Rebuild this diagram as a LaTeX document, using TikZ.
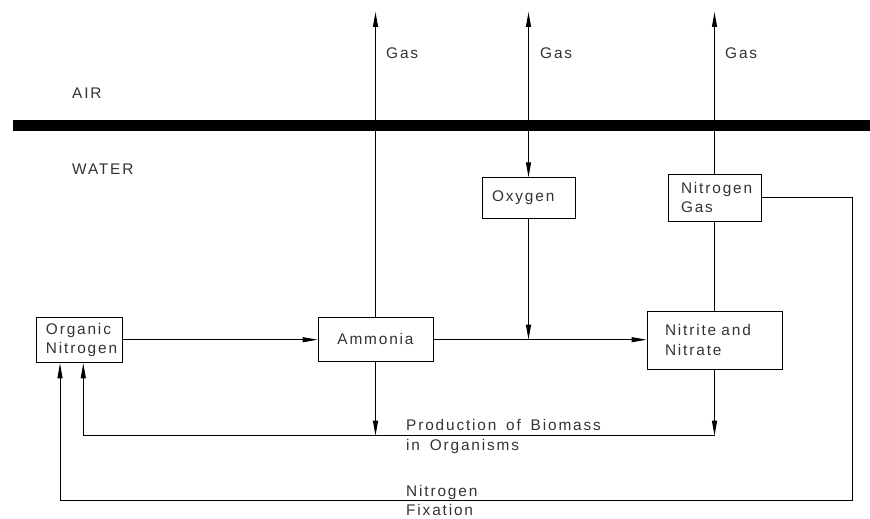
\documentclass[tikz,border=0pt]{standalone}
\usepackage{fontspec}
\setmainfont{Liberation Sans}[LetterSpace=12, WordSpace=1.6]
\usetikzlibrary{arrows.meta}
\begin{document}
\begin{tikzpicture}[x=1pt,y=-1pt,
  every node/.style={font=\fontsize{15.4}{19.5}\selectfont, text=black!80},
  box/.style={draw, line width=0.9pt, minimum height=#1, inner ysep=2pt},
  conn/.style={line width=0.9pt},
  tip/.style={-{Triangle[length=15pt,width=5pt]}},
  lbl/.style={anchor=west, inner sep=0pt, align=left}]
\useasboundingbox (0,0) rectangle (870,519);
% interface
\fill (13,120) rectangle (870,131);
\node[lbl] (air) at (72,93) {AIR};
\node[lbl] (water) at (72,169) {WATER};
% boxes
\node[box=45.7pt, text width=66.7pt, inner xsep=10pt, align=left] (org) at (79.3,340) {Organic\\Nitrogen};
\node[box=44pt, minimum width=115pt, align=center] (amm) at (375.5,339) {Ammonia};
\node[box=40.5pt, text width=73pt, inner xsep=10pt, align=left] (oxy) at (528.5,198) {Oxygen};
\node[box=47pt, text width=67pt, inner xsep=13pt, align=left] (ngas) at (714.5,197.5) {Nitrogen\\Gas};
\node[box=58pt, text width=99pt, inner xsep=18pt, align=left] (nit) at (714.5,340) {Nitrite and\\Nitrate};
% coordinates
\coordinate (tA) at (375.5,12);
\coordinate (tO) at (528.5,12);
\coordinate (tN) at (714.5,12);
\coordinate (jO) at (528.5,339.7);
\coordinate (bA) at (375.5,435.7);
\coordinate (bN) at (714.5,435.7);
\coordinate (bL) at (83.3,435.7);
\coordinate (r1) at (852.7,197.7);
\coordinate (r2) at (852.7,500.7);
\coordinate (r3) at (60,500.7);
% gas labels
\node[lbl] (g1) at (386,53) {Gas};
\node[lbl] (g2) at (540,53) {Gas};
\node[lbl] (g3) at (725,53) {Gas};
% connectors
\draw[conn,tip] (amm.north) -- (tA);
\draw[conn,{Triangle[length=15pt,width=5pt]}-{Triangle[length=15pt,width=5pt]}] (tO) -- (oxy.north);
\draw[conn,tip] (oxy.south) -- (jO);
\draw[conn,tip] (ngas.north) -- (tN);
\draw[conn] (nit.north) -- (ngas.south);
\draw[conn,tip] (org.east |- 0,339.7) -- (amm.west |- 0,339.7);
\draw[conn,tip] (amm.east |- 0,339.7) -- (nit.west |- 0,339.7);
\draw[conn,tip] (amm.south) -- (bA);
\draw[conn,tip] (nit.south) -- (bN);
\draw[conn,tip] (bN) -- (bL) -- (bL |- org.south);
\draw[conn,tip] (ngas.east |- r1) -- (r1) -- (r2) -- (r3) -- (r3 |- org.south);
% process labels
\node[lbl] (prod) at (406,436.5) {Production of Biomass\\in Organisms};
\node[lbl] (fix) at (406,500.5) {Nitrogen\\Fixation};
\end{tikzpicture}
\end{document}
